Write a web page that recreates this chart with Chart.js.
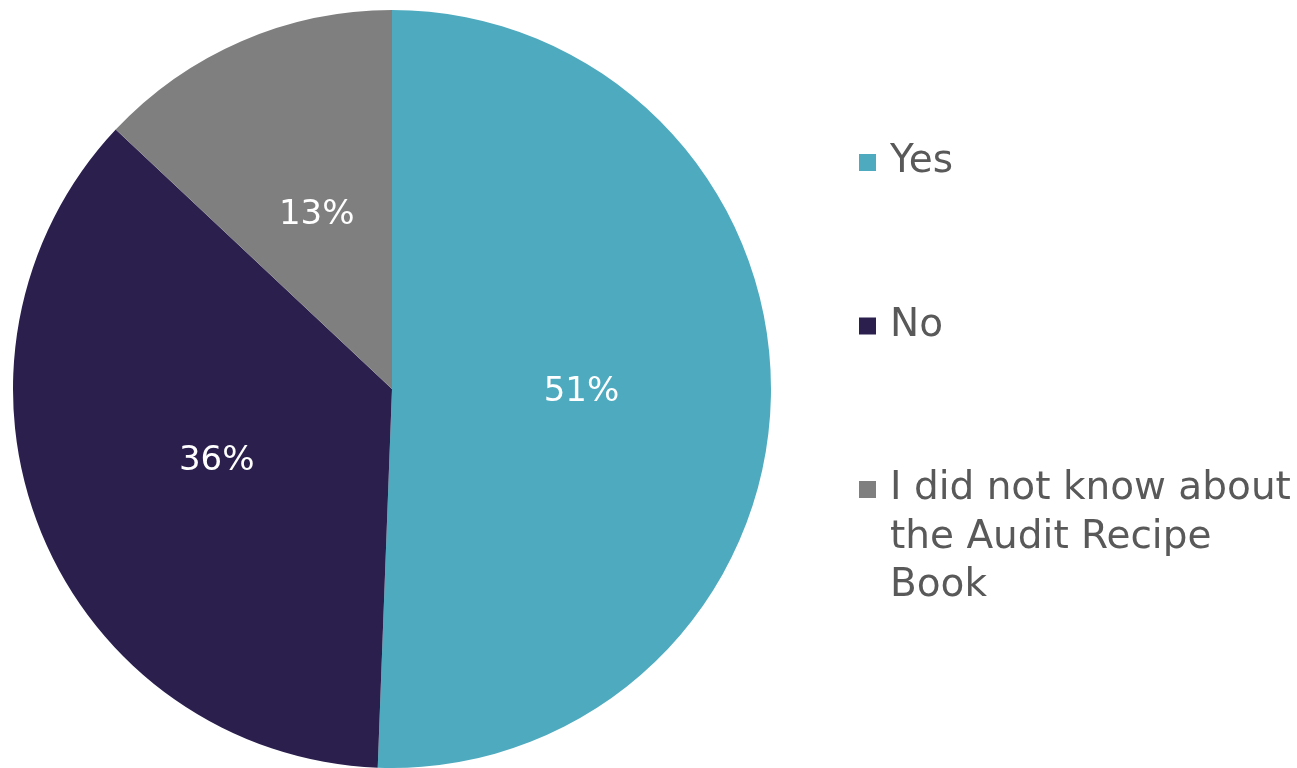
<!DOCTYPE html>
<html>
<head>
<meta charset="utf-8">
<script src="https://cdn.jsdelivr.net/npm/chart.js@4.4.0/dist/chart.umd.min.js"></script>
<style>
  html, body { margin: 0; padding: 0; background: #fff; }
  #wrap { width: 1297px; height: 768px; position: relative; }
</style>
</head>
<body>
<div id="wrap"><canvas id="pieChart"></canvas></div>
<script>
// Chart data (shares, labels show rounded values)
const labels = ["Yes", "No", ["I did not know about", "the Audit Recipe", "Book"]];
const values = [50.6, 36.4, 13.0];
const colors = ["#4EABBF", "#2B1F4E", "#7F7F7F"];

const fontFamily = "'DejaVu Sans', sans-serif";

// Percent labels inside each slice
const sliceLabels = {
  id: "sliceLabels",
  afterDatasetsDraw(chart) {
    const ctx = chart.ctx;
    const meta = chart.getDatasetMeta(0);
    ctx.save();
    ctx.font = "34px " + fontFamily;
    ctx.fillStyle = "#ffffff";
    ctx.textAlign = "center";
    ctx.textBaseline = "middle";
    meta.data.forEach((arc, i) => {
      const pos = arc.tooltipPosition();
      ctx.fillText(Math.round(values[i]) + "%", pos.x, pos.y);
    });
    ctx.restore();
  }
};

// Legend on the right, drawn from the chart's own labels / colors
const sideLegend = {
  id: "sideLegend",
  afterDraw(chart) {
    const ctx = chart.ctx;
    const area = chart.chartArea;
    const x = area.right + 87;
    const lineH = 48.5;
    let y = 162;
    ctx.save();
    ctx.font = "39px " + fontFamily;
    ctx.textBaseline = "middle";
    ctx.textAlign = "left";
    chart.data.labels.forEach((lbl, i) => {
      const lines = Array.isArray(lbl) ? lbl : [lbl];
      ctx.fillStyle = chart.data.datasets[0].backgroundColor[i];
      ctx.fillRect(x, y - 8, 17, 17);
      ctx.fillStyle = "#595959";
      lines.forEach((t, j) => ctx.fillText(t, x + 31, y + j * lineH));
      y += 163.5;
    });
    ctx.restore();
  }
};

new Chart(document.getElementById("pieChart"), {
  type: "pie",
  data: {
    labels: labels,
    datasets: [{
      data: values,
      backgroundColor: colors,
      borderWidth: 0
    }]
  },
  options: {
    responsive: true,
    maintainAspectRatio: false,
    animation: false,
    layout: { padding: { left: 12, right: 525, top: 10, bottom: 0 } },
    plugins: {
      legend: { display: false },
      tooltip: { enabled: false }
    }
  },
  plugins: [sliceLabels, sideLegend]
});
</script>
</body>
</html>
